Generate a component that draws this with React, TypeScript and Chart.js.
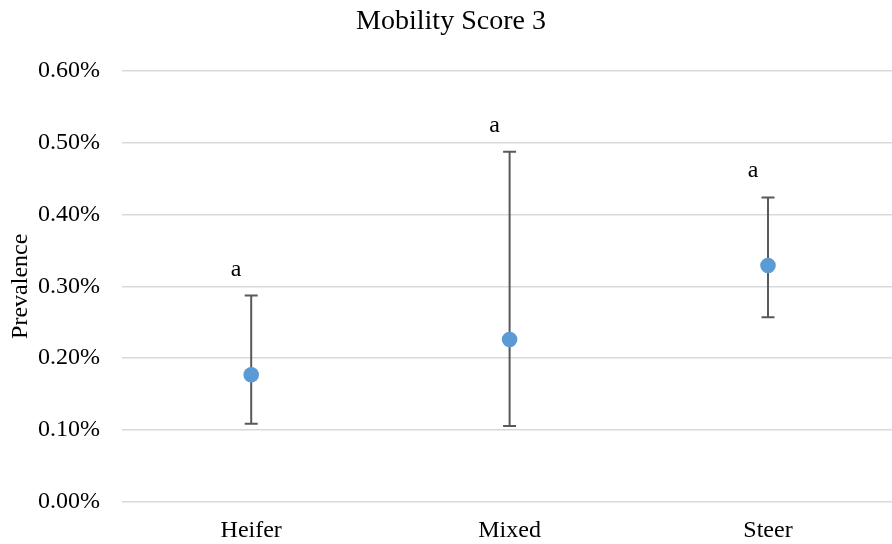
import React, { useEffect, useRef } from "react";
import { Chart, registerables } from "chart.js";

Chart.register(...registerables);

const categories = ["Heifer", "Mixed", "Steer"];
const prevalence = [0.177, 0.226, 0.329];
const lowerCI = [0.109, 0.1056, 0.257];
const upperCI = [0.2871, 0.4871, 0.4236];
const groupLetters = ["a", "a", "a"];
const yTicks = [0, 0.1, 0.2, 0.3, 0.4, 0.5, 0.6];

const FONT = "'Liberation Serif', 'Times New Roman', serif";

const errorBarPlugin = {
  id: "errorBars",
  beforeDatasetsDraw(chart: any) {
    const { ctx, scales } = chart;
    const x = scales.x;
    const y = scales.y;
    ctx.save();
    ctx.strokeStyle = "#595959";
    ctx.lineWidth = 2;
    categories.forEach((_, i) => {
      const px = x.getPixelForValue(i);
      const yt = y.getPixelForValue(upperCI[i]);
      const yb = y.getPixelForValue(lowerCI[i]);
      ctx.beginPath();
      ctx.moveTo(px, yt);
      ctx.lineTo(px, yb);
      ctx.moveTo(px - 6.5, yt);
      ctx.lineTo(px + 6.5, yt);
      ctx.moveTo(px - 6.5, yb);
      ctx.lineTo(px + 6.5, yb);
      ctx.stroke();
    });
    ctx.restore();
  },
  afterDatasetsDraw(chart: any) {
    const { ctx, scales } = chart;
    const x = scales.x;
    const y = scales.y;
    ctx.save();
    ctx.fillStyle = "#000000";
    ctx.font = `24px ${FONT}`;
    ctx.textAlign = "center";
    ctx.textBaseline = "alphabetic";
    categories.forEach((_, i) => {
      const px = x.getPixelForValue(i);
      const yt = y.getPixelForValue(upperCI[i]);
      ctx.fillText(groupLetters[i], px - 15, yt - 20);
    });
    ctx.restore();
  },
};

export default function App() {
  const ref = useRef<HTMLCanvasElement | null>(null);
  useEffect(() => {
    if (!ref.current) return;
    const chart = new Chart(ref.current, {
      type: "line",
      data: {
        labels: categories,
        datasets: [
          {
            label: "Prevalence",
            data: prevalence,
            showLine: false,
            pointRadius: 7.8,
            pointHoverRadius: 7.8,
            pointBackgroundColor: "#5B9BD5",
            pointBorderColor: "#5B9BD5",
            pointBorderWidth: 0,
            backgroundColor: "#5B9BD5",
            borderColor: "#5B9BD5",
          },
        ],
      },
      options: {
        animation: false,
        responsive: false,
        devicePixelRatio: 1,
        layout: { padding: { left: 0, right: 3, top: 0, bottom: 0 } },
        plugins: {
          legend: { display: false },
          tooltip: { enabled: false },
          title: {
            display: true,
            text: "Mobility Score 3",
            color: "#000000",
            font: { family: FONT, size: 28, weight: "normal" },
            padding: { top: 5, bottom: 32 },
          },
        },
        scales: {
          x: {
            type: "category",
            offset: true,
            grid: { display: false, drawTicks: false },
            border: { display: false },
            ticks: {
              color: "#000000",
              font: { family: FONT, size: 24 },
              padding: 14,
            },
            afterFit(scale: any) {
              scale.height = 42;
            },
          },
          y: {
            min: 0,
            max: 0.6,
            afterBuildTicks(scale: any) {
              scale.ticks = yTicks.map((v) => ({ value: v }));
            },
            grid: { color: "#d9d9d9", lineWidth: 1.5, drawTicks: false },
            border: { display: false },
            ticks: {
              color: "#000000",
              font: { family: FONT, size: 24 },
              padding: 22,
              callback: (v: any) => Number(v).toFixed(2) + "%",
            },
            title: {
              display: true,
              text: "Prevalence",
              color: "#000000",
              font: { family: FONT, size: 24, weight: "normal" },
              padding: { top: 6, bottom: 0 },
            },
            afterFit(scale: any) {
              scale.width = 122;
            },
          },
        },
      },
      plugins: [errorBarPlugin],
    });
    return () => chart.destroy();
  }, []);
  return (
    <div
      style={{
        position: "absolute",
        left: 0,
        top: 0,
        width: 892,
        height: 544,
        overflow: "hidden",
        background: "#ffffff",
      }}
    >
      <canvas ref={ref} width={905} height={544} style={{ display: "block" }} />
    </div>
  );
}
